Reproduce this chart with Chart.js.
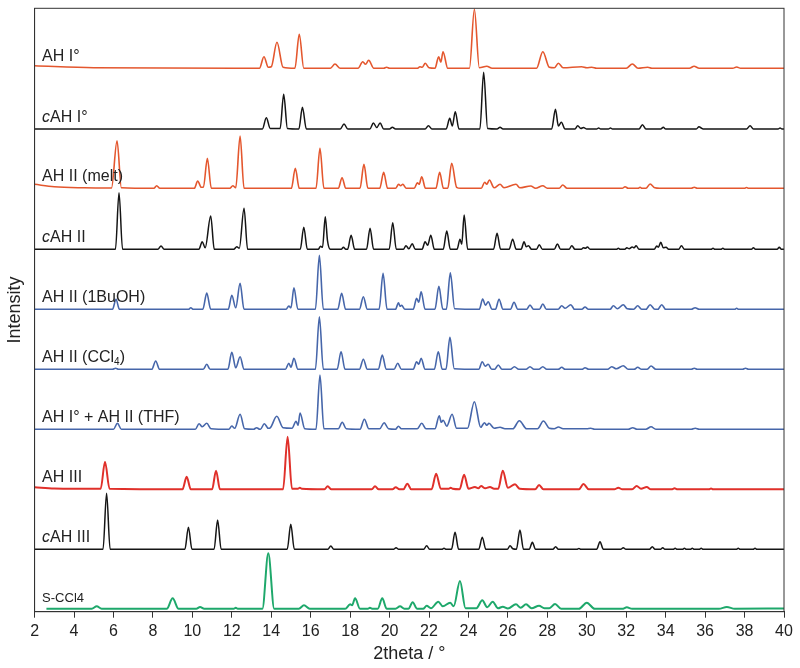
<!DOCTYPE html>
<html lang="en">
<head>
<meta charset="UTF-8">
<title>XRPD patterns</title>
<style>
  body { margin: 0; background: #fff; }
  #chart { display: block; }
</style>
</head>
<body>
<canvas id="chart" width="800" height="668"></canvas>
<script src="https://cdn.jsdelivr.net/npm/chart.js"></script>
<script>
// x axis ticks (2theta)
const xTicks = [2, 4, 6, 8, 10, 12, 14, 16, 18, 20, 22, 24, 26, 28, 30, 32, 34, 36, 38, 40];

// trace names, top to bottom
const traceNames = ['AH I°', 'cAH I°', 'AH II (melt)', 'cAH II', 'AH II (1BuOH)', 'AH II (CCl₄)',
  'AH I° + AH II (THF)', 'AH III', 'cAH III', 'S-CCl4'];

// vertical offset of each trace (stacking)
const traceOffsets = [543.4, 482.7, 423.4, 362.4, 302.4, 242.4, 182.4, 122.4, 62.4, 2.4];

// [2theta, intensity]
const ahI = [[2,2.5],[5,0.5],[13.4,0],[13.63,11.6],[13.85,1],[14.0,1.5],[14.29,26],[14.6,1],[15.2,0],[15.42,34],[15.65,0],[17.0,0],[17.23,4.3],[17.5,0],[18.4,0],[18.64,6.6],[18.78,4],[18.94,8],[19.2,0],[19.7,0],[19.85,1],[20.0,0],[21.4,0],[21.54,1.5],[21.65,1],[21.81,5],[22.0,0.5],[22.3,0],[22.49,11.6],[22.6,6],[22.71,16.6],[22.95,0],[24.05,0],[24.3,59],[24.55,0.5],[24.93,2],[25.2,0],[27.45,0],[27.77,16.6],[28.1,1],[28.35,0.5],[28.56,5],[28.8,0.5],[29.74,1.5],[30.0,0.5],[30.25,1],[30.5,0],[32.0,0],[32.31,4.3],[32.6,0],[33.09,1],[33.3,0],[35.2,0],[35.44,2],[35.7,0],[37.4,0],[37.6,1.3],[37.8,0],[40,0]];

const cahI = [[2,0],[13.55,0],[13.75,11.3],[13.95,0.5],[14.45,0.5],[14.63,34.7],[14.82,0.5],[15.4,0],[15.58,21.7],[15.78,0],[17.5,0],[17.69,5],[17.88,0],[19.0,0],[19.18,6],[19.35,1.5],[19.52,6],[19.7,0],[20.0,0],[20.14,1.7],[20.3,0],[21.8,0],[21.97,3.3],[22.15,0],[22.87,0],[23.05,10.7],[23.18,3],[23.33,17.3],[23.52,0],[24.58,0],[24.77,56.7],[24.97,0.5],[25.45,0],[25.6,1.7],[25.75,0],[28.22,0],[28.41,19.7],[28.56,3],[28.71,6.7],[28.9,0],[29.4,0],[29.54,3.3],[29.7,0.5],[29.83,1.5],[30.0,0],[30.5,0],[30.6,1],[30.7,0],[31.1,0],[31.2,1],[31.3,0],[32.65,0],[32.82,4.3],[33.0,0],[33.75,0],[33.88,1.7],[34.0,0],[35.55,0],[35.69,2.3],[35.8,1],[35.9,0],[38.1,0],[38.28,3.3],[38.45,0],[39.7,0],[39.8,1],[39.9,0],[40,0]];

const ahIIMelt = [[2,4],[3,1.5],[4.5,0.5],[5.9,0.3],[6.18,47.6],[6.4,0.5],[8.05,0],[8.19,2.6],[8.35,0],[10.1,0],[10.27,7.3],[10.45,1],[10.56,1],[10.76,30],[10.96,0],[11.9,0],[12.05,2.6],[12.2,0.5],[12.42,52.3],[12.62,0],[15.02,0],[15.22,20],[15.42,0],[16.27,0],[16.47,40],[16.67,0],[17.4,0],[17.59,10.6],[17.78,0],[18.5,0],[18.7,24],[18.9,0],[19.5,0],[19.7,16],[19.9,0],[20.3,0],[20.46,4],[20.56,2.5],[20.67,4],[20.85,0],[21.25,0],[21.41,5.6],[21.5,4],[21.63,11.6],[21.82,0],[22.35,0],[22.54,16],[22.73,0],[22.95,0],[23.15,25],[23.4,1],[23.6,0],[24.65,0],[24.82,6],[24.93,4],[25.06,8.3],[25.3,0.5],[25.6,4],[25.8,0.5],[26.41,4],[26.6,0.5],[27.16,2.3],[27.4,0],[27.77,2.6],[28.0,0],[28.6,0],[28.78,3.3],[29.0,0],[31.8,0],[31.94,1.6],[32.1,0],[32.6,0],[32.7,1],[32.8,0],[33.0,0],[33.21,4.3],[33.45,0.5],[33.7,0],[35.3,0],[35.45,1],[35.6,0],[38.0,0],[38.1,0.8],[38.2,0],[40,0]];

const cahII = [[2,0],[6.1,0],[6.28,56.6],[6.46,0],[8.25,0],[8.41,3.3],[8.57,0],[10.33,0],[10.5,7.6],[10.65,1.5],[10.93,33.3],[11.11,0],[12.1,0],[12.25,2.6],[12.38,1],[12.62,41],[12.8,0],[15.47,0],[15.65,22],[15.83,0],[16.38,0],[16.5,3],[16.6,2],[16.74,32.6],[16.85,9],[17.0,0],[17.55,0],[17.66,2],[17.78,0],[17.87,0],[18.05,14],[18.23,0],[18.83,0],[19.01,21],[19.19,0],[19.98,0],[20.16,26.6],[20.34,0],[20.7,0],[20.83,3.6],[20.98,0.5],[21.15,5.6],[21.3,0],[21.65,0],[21.8,7.6],[21.93,4],[22.09,14],[22.27,0],[22.72,0],[22.9,18.3],[23.08,0],[23.42,0],[23.57,10],[23.66,5],[23.78,34.3],[23.96,0],[25.27,0],[25.45,16],[25.63,0],[26.06,0],[26.24,10],[26.42,0],[26.67,0],[26.82,7.6],[26.93,2.5],[27.04,3.6],[27.2,0],[27.45,0],[27.59,4.6],[27.75,0],[28.35,0],[28.51,5.3],[28.67,0],[29.1,0],[29.24,3.6],[29.4,0],[29.72,0],[29.83,1.6],[29.93,1],[30.03,2.3],[30.17,0],[31.5,0],[31.6,1],[31.7,0],[31.93,0],[32.03,1.6],[32.15,0.5],[32.3,2.3],[32.4,1.5],[32.5,3.6],[32.65,0],[33.42,0],[33.55,3.3],[33.63,2],[33.75,7],[33.88,1.5],[34.02,2],[34.15,0],[34.66,0],[34.8,3.6],[34.95,0],[36.3,0],[36.4,1],[36.5,0],[36.8,0],[36.9,1],[37.0,0],[38.35,0],[38.45,1.5],[38.55,0],[39.65,0],[39.76,2],[39.87,0],[40,0]];

const ahIIBuOH = [[2,0],[5.95,0],[6.13,10],[6.3,0],[9.8,0],[9.92,1.5],[10.05,0],[10.53,0],[10.73,16.3],[10.93,0],[11.82,0],[12.0,14],[12.2,1.5],[12.42,26],[12.62,0],[14.75,0],[14.89,3.3],[15.0,1.5],[15.15,21.6],[15.35,0],[16.24,0],[16.44,54],[16.64,0],[17.37,0],[17.57,16],[17.77,0],[18.47,0],[18.67,12.6],[18.87,0],[19.47,0],[19.67,36],[19.87,0],[20.3,0],[20.45,6.6],[20.53,3],[20.61,4],[20.78,0],[21.2,0],[21.37,11],[21.48,7],[21.6,17.6],[21.8,0],[22.3,0],[22.5,23],[22.7,0],[22.88,0],[23.08,36.6],[23.3,0.5],[24.55,0],[24.72,10.3],[24.86,4],[25.0,7.6],[25.2,0],[25.37,0],[25.55,10],[25.75,0],[26.13,0],[26.31,7],[26.5,0],[26.95,0],[27.12,4.3],[27.3,0],[27.6,0],[27.77,5.3],[27.95,0],[28.55,0],[28.73,3.6],[28.9,1],[29.19,4.6],[29.38,0],[29.75,0],[29.91,2.3],[30.08,0],[31.18,0],[31.35,3.6],[31.55,0.5],[31.85,4.6],[32.05,0.5],[32.38,0],[32.58,3.6],[32.78,0],[33.0,0],[33.21,4.6],[33.45,0],[33.6,0],[33.8,4.6],[34.0,0],[35.3,0],[35.49,1.6],[35.7,0],[37.5,0],[37.6,1],[37.7,0],[40,0]];

const ahIICCl4 = [[2,0],[5.95,0],[6.11,1],[6.25,0],[7.94,0],[8.14,8.3],[8.34,0],[10.55,0],[10.73,5],[10.9,0],[11.8,0],[12.0,17],[12.2,1.5],[12.42,12.6],[12.62,0],[14.72,0],[14.89,6],[15.0,2],[15.15,11],[15.35,0],[16.24,0],[16.44,52.6],[16.64,0],[17.34,0],[17.54,17.6],[17.74,0],[18.47,0],[18.67,10],[18.87,0],[19.43,0],[19.63,14.3],[19.83,0],[20.23,0],[20.41,6],[20.6,0],[21.2,0],[21.37,7.6],[21.48,5],[21.6,11],[21.8,0],[22.27,0],[22.47,17.6],[22.67,0],[22.86,0],[23.06,32],[23.28,0.5],[24.52,0],[24.7,7.6],[24.85,3],[25.0,5],[25.18,0],[25.33,0],[25.51,4.3],[25.7,0],[26.13,0],[26.33,2.6],[26.55,0],[26.92,0],[27.12,2.6],[27.32,0],[27.57,0],[27.77,2.6],[27.97,0],[28.55,0],[28.73,2],[28.9,0],[29.75,0],[29.91,1.5],[30.1,0],[31.06,0],[31.26,2.6],[31.5,0.5],[31.85,3.6],[32.1,0],[32.4,0],[32.58,2],[32.78,0],[33.05,0],[33.26,3.3],[33.5,0],[35.3,0],[35.45,1],[35.6,0],[37.9,0],[38.05,1],[38.2,0],[40,0]];

const ahMixTHF = [[2,0],[6.0,0],[6.2,6],[6.4,0],[10.15,0],[10.34,5.6],[10.5,2.5],[10.73,6],[10.95,0.5],[11.85,0],[12.0,3.3],[12.15,1],[12.42,15],[12.65,0.5],[13.1,0],[13.26,1.6],[13.42,0],[13.45,0],[13.65,5.6],[13.85,1],[13.95,1.5],[14.28,13],[14.6,1.5],[15.05,1],[15.26,8],[15.36,4],[15.46,16.3],[15.7,0.5],[16.27,0],[16.47,54.3],[16.67,0.5],[17.4,0.5],[17.6,7],[17.8,0.5],[18.5,0],[18.72,10],[18.95,0.5],[19.5,0.5],[19.72,6.6],[19.95,0.5],[20.3,0],[20.45,3],[20.6,0.5],[21.4,0.5],[21.63,6],[21.85,0.5],[22.3,0.5],[22.52,13.6],[22.62,7],[22.72,9],[22.9,3],[23.17,15],[23.4,1],[23.95,1],[24.3,27.6],[24.62,2],[24.81,6.6],[24.93,4],[25.04,6],[25.3,1],[25.6,2],[25.85,0.5],[26.25,0.5],[26.58,8.6],[26.95,0.5],[27.5,0.5],[27.8,8.3],[28.1,1],[28.35,0.5],[28.56,2.3],[28.8,0.5],[30.0,0.5],[30.2,1],[30.4,0],[32.1,0],[32.33,1.6],[32.55,0],[33.0,0],[33.26,2.6],[33.5,0],[35.3,0],[35.5,1],[35.7,0],[40,0]];

const ahIII = [[2,2],[3,0.8],[5.35,0.5],[5.57,27.6],[5.8,0.5],[9.5,0],[9.71,12.6],[9.92,0],[11.0,0],[11.2,18.6],[11.4,0],[14.6,0],[14.83,52.6],[15.05,0.5],[15.35,0.5],[15.45,1.5],[15.55,0.5],[16.7,0],[16.86,3],[17.05,0],[19.1,0],[19.26,3],[19.45,0],[20.15,0],[20.31,2],[20.5,0],[20.7,0],[20.9,5.6],[21.1,0],[22.13,0],[22.36,15.6],[22.6,0.5],[23.0,0.5],[23.1,1.5],[23.2,0.5],[23.55,0],[23.78,14.6],[24.0,0.5],[24.33,2.3],[24.5,1],[24.64,3.3],[24.85,1],[25.09,2.3],[25.3,0.5],[25.51,0.5],[25.74,18.6],[26.0,1.5],[26.36,5],[26.6,0.5],[27.38,0],[27.58,4.3],[27.8,0],[29.6,0],[29.83,5.3],[30.1,0],[31.4,0],[31.6,1.6],[31.8,0],[32.3,0],[32.53,3.3],[32.75,0.5],[33.04,2.3],[33.25,0],[34.3,0],[34.45,1],[34.6,0],[36.2,0],[36.3,0.8],[36.4,0],[40,0]];

const cahIII = [[2,0],[5.47,0],[5.65,56],[5.83,0],[9.62,0],[9.8,22],[9.98,0],[11.1,0],[11.28,29.3],[11.46,0],[14.81,0],[14.99,25],[15.17,0],[16.87,0],[17.02,3.3],[17.17,0],[20.2,0],[20.33,1.6],[20.46,0],[21.73,0],[21.88,3.6],[22.03,0],[22.65,0],[22.76,1],[22.87,0],[23.14,0],[23.32,17],[23.5,0],[24.52,0],[24.7,12],[24.88,0],[25.97,0],[26.11,3.6],[26.25,0.5],[26.43,0],[26.61,19.3],[26.79,0],[27.08,0],[27.24,7],[27.4,0],[28.28,0],[28.42,2.6],[28.56,0],[29.5,0],[29.6,0.8],[29.7,0],[30.5,0],[30.67,7.6],[30.84,0],[31.72,0],[31.85,1.6],[31.98,0],[33.18,0],[33.32,2.6],[33.46,0],[33.74,0],[33.85,1.6],[33.96,0],[34.38,0],[34.48,1],[34.58,0],[34.85,0],[34.95,1],[35.05,0],[35.25,0],[35.35,1],[35.45,0],[35.7,0],[35.8,1],[35.9,0],[37.58,0],[37.68,1],[37.78,0],[38.43,0],[38.53,1],[38.63,0],[40,0]];

const sCCl4 = [[2.6,0.5],[4.9,0.5],[5.15,3],[5.4,0.5],[8.7,0.5],[9.0,11],[9.3,0.5],[10.2,0.5],[10.39,2.3],[10.6,0.5],[12.1,0.5],[12.2,1.5],[12.3,0.5],[13.55,0.5],[13.85,56],[14.15,0.5],[15.4,0.5],[15.66,4],[15.95,0.5],[17.75,0.5],[18.0,5],[18.1,4],[18.25,11],[18.5,0.5],[18.9,0.5],[19.0,1.5],[19.15,0.5],[19.4,0.5],[19.63,11],[19.85,0.5],[20.3,0.5],[20.53,3],[20.75,0.5],[20.95,0.5],[21.17,7],[21.4,0.5],[21.7,0.5],[21.88,3.5],[22.1,1],[22.47,7.6],[22.7,3],[23.07,6.6],[23.25,3],[23.57,28.3],[23.85,1],[24.4,1],[24.7,9],[24.95,2],[25.23,7.6],[25.5,1],[25.74,2.6],[26.0,0.8],[26.41,5],[26.65,1.5],[26.92,5],[27.2,1],[27.58,3.6],[27.85,1],[28.1,1],[28.39,5.3],[28.7,0.5],[29.6,0.5],[30.0,6.6],[30.4,0.5],[31.8,0.5],[32.03,2],[32.3,0.5],[36.7,0.5],[37.1,2.3],[37.5,0.5],[40,0.8]];

const traces = [ahI, cahI, ahIIMelt, cahII, ahIIBuOH, ahIICCl4, ahMixTHF, ahIII, cahIII, sCCl4];

// styles
const ORANGE = '#e4572e', RED = '#e0302a', BLUE = '#4666aa', BLACK = '#151515', GREEN = '#1ea86b';
const traceColors = [ORANGE, BLACK, ORANGE, BLACK, BLUE, BLUE, BLUE, RED, BLACK, GREEN];
const traceWidths = [1.6, 1.5, 1.6, 1.5, 1.6, 1.6, 1.6, 2, 1.5, 2];
const FONT = '"Liberation Sans", Arial, sans-serif';

const datasets = traces.map((pts, i) => ({
    label: traceNames[i],
    data: pts.map(p => ({ x: p[0], y: p[1] + traceOffsets[i] })),
    borderColor: traceColors[i],
    borderWidth: traceWidths[i],
    pointRadius: 0,
    fill: false,
    cubicInterpolationMode: 'monotone'
}));

// trace names inside the plot + closed frame
const traceLabels = {
    id: 'traceLabels',
    afterDatasetsDraw(chart) {
        const { ctx, chartArea, scales } = chart;
        ctx.save();
        ctx.strokeStyle = '#333';
        ctx.lineWidth = 1;
        ctx.strokeRect(chartArea.left, chartArea.top, chartArea.right - chartArea.left, chartArea.bottom - chartArea.top);
        ctx.fillStyle = '#222';
        ctx.textBaseline = 'alphabetic';
        traceNames.forEach((name, i) => {
            const y = scales.y.getPixelForValue(traceOffsets[i]) - 7;
            let x = chartArea.left + 7.5;
            const size = name === 'S-CCl4' ? 13 : 16;
            for (let k = 0; k < name.length; k++) {
                const ch = name[k];
                if (k === 0 && ch === 'c') {
                    ctx.font = 'italic ' + size + 'px ' + FONT;
                    ctx.fillText(ch, x, y);
                    x += ctx.measureText(ch).width;
                } else if (ch === '₄') {
                    ctx.font = '10px ' + FONT;
                    ctx.fillText('4', x, y + 3);
                    x += ctx.measureText('4').width;
                } else {
                    ctx.font = size + 'px ' + FONT;
                    ctx.fillText(ch, x, y);
                    x += ctx.measureText(ch).width;
                }
            }
        });
        ctx.restore();
    }
};

new Chart(document.getElementById('chart'), {
    type: 'line',
    data: { datasets },
    options: {
        responsive: false,
        animation: false,
        layout: { padding: { top: 8.3, right: 16, left: 0, bottom: 0 } },
        plugins: { legend: { display: false }, tooltip: { enabled: false } },
        scales: {
            x: {
                type: 'linear',
                min: 2,
                max: 40,
                afterBuildTicks: s => { s.ticks = xTicks.map(v => ({ value: v })); },
                ticks: { font: { size: 16, family: FONT }, color: '#222', padding: 4, maxRotation: 0 },
                grid: { drawOnChartArea: false, tickLength: 6, color: '#333' },
                border: { color: '#333' },
                title: { display: true, text: '2theta / °', font: { size: 18, family: FONT }, color: '#222', padding: { top: 2, bottom: 3 } },
                afterFit: s => { s.height = 56.3; }
            },
            y: {
                min: 0,
                max: 603.4,
                ticks: { display: false },
                grid: { display: false },
                border: { color: '#333' },
                title: { display: true, text: 'Intensity', font: { size: 18, family: FONT }, color: '#222', padding: { top: 4, bottom: 4 } },
                afterFit: s => { s.width = 34.6; }
            }
        }
    },
    plugins: [traceLabels]
});
</script>
</body>
</html>
